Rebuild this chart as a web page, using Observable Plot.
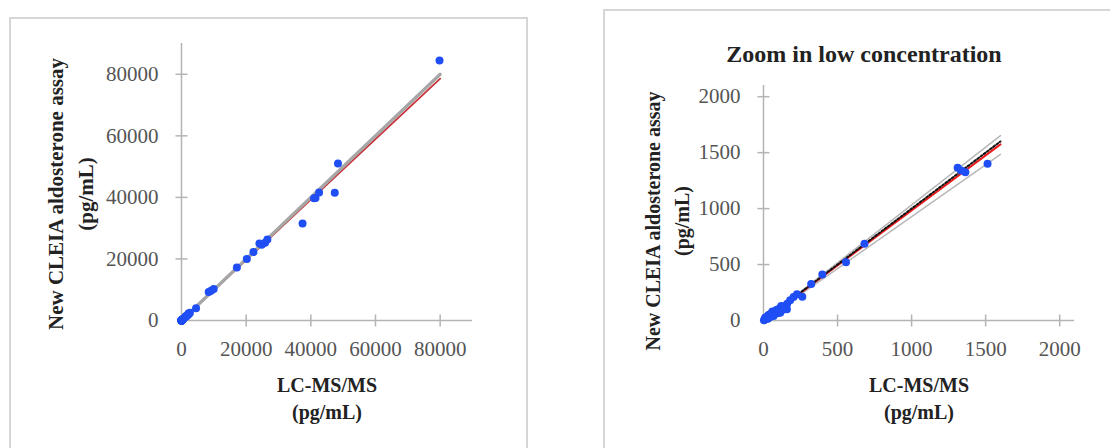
<!DOCTYPE html>
<html><head><meta charset="utf-8">
<script src="https://cdn.jsdelivr.net/npm/d3@7"></script>
<script src="https://cdn.jsdelivr.net/npm/@observablehq/plot@0.6"></script>
<style>
html,body{margin:0;padding:0;background:#fff;width:1110px;height:448px;overflow:hidden;}
.panel{position:absolute;border:2px solid #d6d6d6;box-sizing:border-box;}
#leftFrame{left:9px;top:17px;width:519px;height:460px;}
#rightFrame{left:603px;top:9px;width:520px;height:470px;}
.plot{position:absolute;}
</style></head><body>
<div class="panel" id="leftFrame"></div>
<div class="panel" id="rightFrame"></div>
<div class="plot" id="leftPlot" style="left:10px;top:18px"></div>
<div class="plot" id="rightPlot" style="left:604px;top:10px"></div>
<script>
// ---- data (pg/mL) ----
const lowX = [3, 8, 11, 15, 20, 25, 30, 34, 40, 45, 50, 57, 60, 68, 70, 79, 85, 90, 95, 101, 110, 113, 120, 124, 130, 140, 147, 158, 160, 180, 203, 226, 262, 322, 397, 557, 682, 1311, 1334, 1363, 1513];
const lowY = [2, 10, 25, 12, 20, 35, 15, 49, 30, 55, 35, 70, 80, 40, 60, 85, 70, 95, 65, 91, 110, 70, 130, 109, 95, 120, 130, 100, 150, 181, 210, 235, 212, 327, 410, 520, 685, 1365, 1340, 1325, 1400];
const highX = [1900, 2150, 2300, 2600, 4500, 8400, 9150, 9950, 17130, 20200, 22250, 24100, 24820, 25850, 26560, 37440, 41000, 41440, 42550, 47400, 48400, 79800];
const highY = [1700, 2280, 2100, 2500, 4000, 9300, 9650, 10200, 17260, 19970, 22250, 25000, 24650, 25300, 26280, 31500, 39700, 39840, 41600, 41470, 51040, 84500];

const leftTicks = [0, 20000, 40000, 60000, 80000];
const rightTicks = [0, 500, 1000, 1500, 2000];
const leftDomain = [0, 90000];
const rightDomain = [0, 2100];

// lines: [x0, x1] with y endpoints
const leftLineX = [0, 80000];
const leftRefY = [0, 80000];      // grey line
const leftFitY = [0, 78560];      // red regression
const rightLineX = [0, 1600];
const rightUpperY = [0, 1652];    // grey CI upper
const rightLowerY = [0, 1484];    // grey CI lower
const rightFitY = [0, 1574];      // red regression
const rightIdentY = [0, 1600];    // black dotted identity

const yTitle = "New CLEIA aldosterone assay\n(pg/mL)";
const xTitle = "LC-MS/MS\n(pg/mL)";
const plotTitle = "Zoom in low concentration";

// ---- helpers ----
const pts = (xs, ys) => xs.map((x, i) => ({x, y: ys[i]}));
const vbar = {draw(c, size) { const h = Math.sqrt(size / Math.PI); c.moveTo(0, -h); c.lineTo(0, h); }};
const hbar = {draw(c, size) { const h = Math.sqrt(size / Math.PI); c.moveTo(-h, 0); c.lineTo(h, 0); }};
const FONT = "'Liberation Serif', 'DejaVu Serif', serif";
const AXIS = "#b4b4b4";
const BLUE = "#1f4ef5";
const fmt = d => String(d);

function axes(ticks) {
  return [
    Plot.ruleY([0], {stroke: AXIS, strokeWidth: 1.5}),
    Plot.ruleX([0], {stroke: AXIS, strokeWidth: 1.5}),
    Plot.dot(ticks.slice(1), {x: d => d, y: 0, symbol: vbar, r: 6, fill: "none", stroke: AXIS, strokeWidth: 1.5}),
    Plot.dot(ticks.slice(1), {x: 0, y: d => d, symbol: hbar, r: 6, fill: "none", stroke: AXIS, strokeWidth: 1.5}),
    Plot.axisX({ticks, tickFormat: fmt, tickSize: 0, tickPadding: 21, fontSize: 21, fill: "#555", label: null}),
    Plot.axisY({ticks, tickFormat: fmt, tickSize: 0, tickPadding: 23, fontSize: 21, fill: "#555", label: null})
  ];
}

// ---- left panel ----
const leftPlot = Plot.plot({
  width: 517, height: 430,
  marginLeft: 171, marginRight: 55, marginTop: 25, marginBottom: 128,
  style: {fontFamily: FONT, background: "transparent"},
  x: {domain: leftDomain}, y: {domain: leftDomain},
  marks: [
    ...axes(leftTicks),
    Plot.line(pts(leftLineX, leftFitY), {x: "x", y: "y", stroke: "#c8323a", strokeWidth: 1.8}),
    Plot.line(pts(leftLineX, leftRefY), {x: "x", y: "y", stroke: "#a6a6a6", strokeWidth: 3.2}),
    Plot.dot(pts(lowX, lowY).concat(pts(highX, highY)), {x: "x", y: "y", r: 4, fill: BLUE}),
    Plot.text([yTitle], {frameAnchor: "left", textAnchor: "middle", lineAnchor: "middle", rotate: -90, dx: -113, dy: 12, fontSize: 21, fontWeight: "bold", lineHeight: 1.45, fill: "#222"}),
    Plot.text([xTitle], {frameAnchor: "bottom", textAnchor: "middle", lineAnchor: "middle", dy: 76, fontSize: 20, fontWeight: "bold", lineHeight: 1.35, fill: "#222"})
  ]
});
document.getElementById("leftPlot").appendChild(leftPlot);

// ---- right panel ----
const rightPlot = Plot.plot({
  width: 506, height: 438,
  marginLeft: 159, marginRight: 36, marginTop: 75, marginBottom: 128,
  style: {fontFamily: FONT, background: "transparent"},
  x: {domain: rightDomain}, y: {domain: rightDomain},
  marks: [
    ...axes(rightTicks),
    Plot.line(pts(rightLineX, rightUpperY), {x: "x", y: "y", stroke: "#b8b8b8", strokeWidth: 1.5}),
    Plot.line(pts(rightLineX, rightLowerY), {x: "x", y: "y", stroke: "#b8b8b8", strokeWidth: 1.5}),
    Plot.line(pts(rightLineX, rightFitY), {x: "x", y: "y", stroke: "#ee1c1c", strokeWidth: 2}),
    Plot.line(pts(rightLineX, rightIdentY), {x: "x", y: "y", stroke: "#111", strokeWidth: 2, strokeDasharray: "2,2"}),
    Plot.dot(pts(lowX, lowY), {x: "x", y: "y", r: 4, fill: BLUE}),
    Plot.text([plotTitle], {frameAnchor: "top", textAnchor: "middle", lineAnchor: "middle", dx: -55, dy: -31, fontSize: 24, fontWeight: "bold", fill: "#222"}),
    Plot.text([yTitle], {frameAnchor: "left", textAnchor: "middle", lineAnchor: "middle", rotate: -90, dx: -98, dy: 18, fontSize: 20, fontWeight: "bold", lineHeight: 1.45, fill: "#222"}),
    Plot.text([xTitle], {frameAnchor: "bottom", textAnchor: "middle", lineAnchor: "middle", dy: 76, fontSize: 20, fontWeight: "bold", lineHeight: 1.35, fill: "#222"})
  ]
});
document.getElementById("rightPlot").appendChild(rightPlot);
</script>
</body></html>
